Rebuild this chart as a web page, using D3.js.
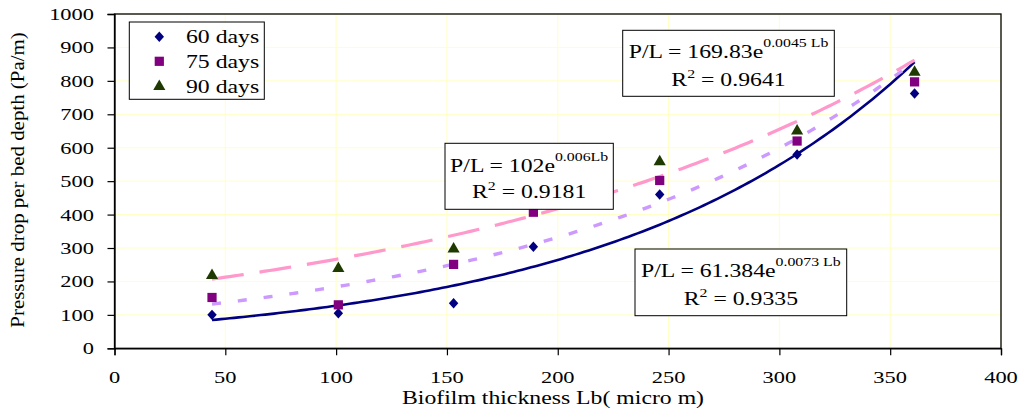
<!DOCTYPE html>
<html><head><meta charset="utf-8">
<script src="https://cdn.jsdelivr.net/npm/d3@7"></script>
<style>body{margin:0;background:#fff}svg{display:block}text{font-family:"Liberation Serif","Times New Roman",serif;fill:#000}</style>
</head><body><svg id="c" width="1025" height="409"></svg>
<script>
// ---- data ----
const thickness = [44, 101, 153, 189, 246, 308, 361];
const days60 = [100, 105, 135, 304, 460, 580, 762];
const days75 = [152, 130, 251, 407, 502, 620, 797];
const days90 = [218, 239, 297, 440, 558, 650, 826];
const seriesNames = ["60 days", "75 days", "90 days"];
const trendA = [61.384, 102, 169.83];
const trendB = [0.0073, 0.0059, 0.0045];
const eqMain = ["P/L = 61.384e", "P/L = 102e", "P/L = 169.83e"];
const eqExp = ["0.0073 Lb", "0.006Lb", "0.0045 Lb"];
const eqR2 = ["0.9335", "0.9181", "0.9641"];
const xTicks = [0, 50, 100, 150, 200, 250, 300, 350, 400];
const yTicks = [0, 100, 200, 300, 400, 500, 600, 700, 800, 900, 1000];

// ---- layout ----
const L = 114.5, R = 1001, T = 14, B = 348.3, SX = 1.32;
const x = d3.scaleLinear().domain([0, 400]).range([L, R]);
const y = d3.scaleLinear().domain([0, 1000]).range([B, T]);
const svg = d3.select("#c");

function stext(g, px, py, str, size, anchor, sx) {
  return g.append("text").attr("transform", `translate(${px},${py}) scale(${sx},1)`)
    .attr("text-anchor", anchor).attr("font-size", size).text(str);
}

// gridlines
const grid = svg.append("g");
grid.selectAll("line.h").data(yTicks.slice(1)).join("line")
  .attr("x1", L).attr("x2", R).attr("y1", d => y(d)).attr("y2", d => y(d))
  .attr("stroke", "#ffffc4").attr("stroke-width", 1);
grid.selectAll("line.v").data(xTicks.slice(1)).join("line")
  .attr("y1", T).attr("y2", B).attr("x1", d => x(d)).attr("x2", d => x(d))
  .attr("stroke", "#ffffc4").attr("stroke-width", 1);

// frame
svg.append("rect").attr("x", L).attr("y", T).attr("width", R - L).attr("height", B - T)
  .attr("fill", "none").attr("stroke", "#000").attr("stroke-width", 1.3);

// axes
const xAxis = svg.append("g").attr("transform", `translate(0,${B})`)
  .call(d3.axisBottom(x).tickValues(xTicks).tickSize(7).tickFormat(""));
const yAxis = svg.append("g").attr("transform", `translate(${L},0)`)
  .call(d3.axisLeft(y).tickValues(yTicks).tickSize(7).tickFormat(""));
[xAxis, yAxis].forEach(a => { a.select(".domain").attr("stroke", "#000").attr("stroke-width", 1.3); a.selectAll("line").attr("stroke", "#000").attr("stroke-width", 1.2); });
xTicks.forEach(t => stext(svg, x(t), 383, String(t), 17, "middle", SX));
yTicks.forEach(t => stext(svg, 94, y(t) + 6, String(t), 17, "end", SX));

// axis titles
stext(svg, 553, 404, "Biofilm thickness Lb( micro m)", 18, "middle", SX);
svg.append("text").attr("transform", "translate(24,180) rotate(-90) scale(1.1,1)")
  .attr("text-anchor", "middle").attr("font-size", 19).text("Pressure drop per bed depth (Pa/m)");

// trendlines
const tColors = ["#000080", "#cc99ff", "#ff99cc"];
const tDash = [null, "9,17", "32,16"];
const tWidth = [2.6, 3.4, 3.2];
const line = d3.line().x(d => x(d[0])).y(d => y(d[1]));
[0, 1, 2].forEach(i => {
  const pts = d3.range(thickness[0], thickness[thickness.length - 1] + 0.01, 2)
    .map(v => [v, trendA[i] * Math.exp(trendB[i] * v)]);
  pts.push([thickness[thickness.length - 1], trendA[i] * Math.exp(trendB[i] * thickness[thickness.length - 1])]);
  svg.append("path").attr("d", line(pts)).attr("fill", "none")
    .attr("stroke", tColors[i]).attr("stroke-width", tWidth[i])
    .attr("stroke-dasharray", tDash[i]);
});

// markers
const mColors = ["#000080", "#800080", "#1f3a00"];
const symDiamond = d3.symbol().type(d3.symbolDiamond2).size(70)();
const symSquare = d3.symbol().type(d3.symbolSquare).size(85)();
const symTri = d3.symbol().type(d3.symbolTriangle).size(64)();
const syms = [symDiamond, symSquare, symTri];
const vals = [days60, days75, days90];
// 90-day series drawn first (partly lies under annotation box)
[2, 0, 1].forEach(i => {
  svg.append("g").selectAll("path").data(thickness.map((t, k) => [t, vals[i][k]])).join("path")
    .attr("d", syms[i]).attr("transform", d => `translate(${x(d[0])},${y(d[1])})${i === 0 ? " scale(0.9,1)" : ""}`)
    .attr("fill", mColors[i]);
});

// equation boxes
const boxes = [
  {x0: 635, y0: 249, x1: 846.7, y1: 315.7, b1: 276.7, b2: 305},
  {x0: 445, y0: 143.3, x1: 613.3, y1: 209.3, b1: 171.7, b2: 198.3},
  {x0: 622.7, y0: 30.3, x1: 834.3, y1: 96.3, b1: 57.5, b2: 85.5}
];
boxes.forEach((b, i) => {
  svg.append("rect").attr("x", b.x0).attr("y", b.y0).attr("width", b.x1 - b.x0).attr("height", b.y1 - b.y0)
    .attr("fill", "#fff").attr("stroke", "#000").attr("stroke-width", 1);
  const cx = (b.x0 + b.x1) / 2;
  const t1 = svg.append("text").attr("transform", `translate(${cx},${b.b1}) scale(${SX},1)`)
    .attr("text-anchor", "middle").attr("font-size", 18);
  t1.append("tspan").text(eqMain[i]);
  t1.append("tspan").attr("font-size", 12).attr("dy", -10.5).text(eqExp[i]);
  const t2 = svg.append("text").attr("transform", `translate(${cx},${b.b2}) scale(${SX},1)`)
    .attr("text-anchor", "middle").attr("font-size", 18);
  t2.append("tspan").text("R");
  t2.append("tspan").attr("font-size", 12).attr("dy", -8).text("2");
  t2.append("tspan").attr("dy", 8).text(" = " + eqR2[i]);
});

// legend
const lg = svg.append("g");
lg.append("rect").attr("x", 129.3).attr("y", 22).attr("width", 135).attr("height", 77.3)
  .attr("fill", "#fff").attr("stroke", "#000").attr("stroke-width", 1);
const legY = [36.7, 61.3, 86.5];
[0, 1, 2].forEach(i => {
  lg.append("path").attr("d", syms[i]).attr("transform", `translate(159.3,${legY[i]})${i === 0 ? " scale(0.9,1)" : ""}`).attr("fill", mColors[i]);
  stext(lg, 186, legY[i] + 6.5, seriesNames[i], 18, "start", SX);
});
</script></body></html>
